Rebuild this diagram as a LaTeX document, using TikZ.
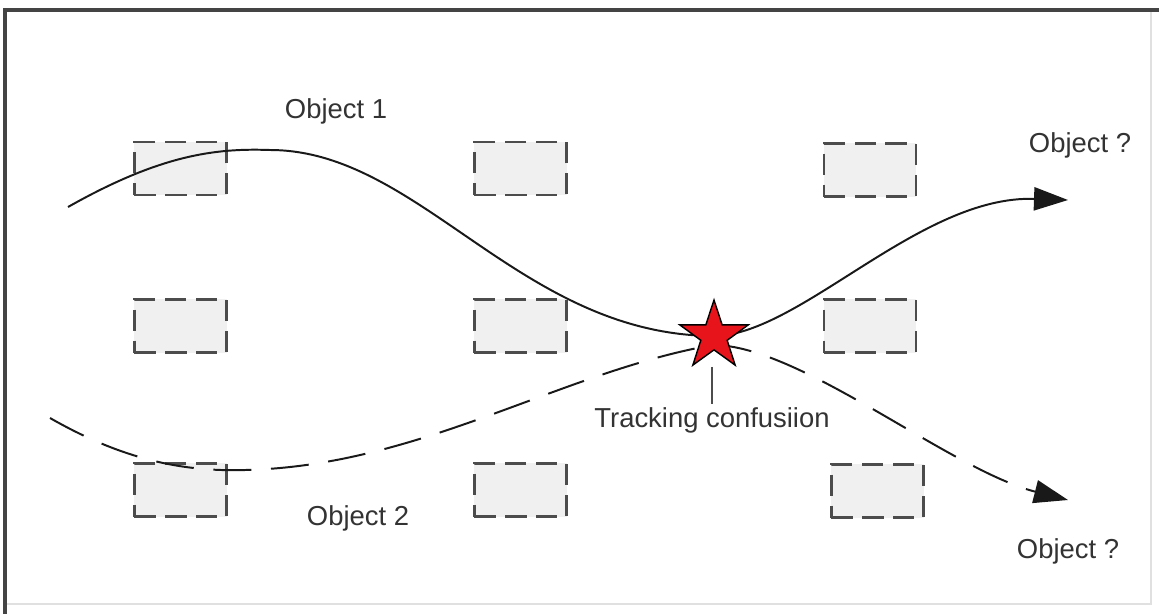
\documentclass[tikz,border=0pt]{standalone}
\usepackage{fontspec}
\setmainfont{Liberation Sans}
\usetikzlibrary{arrows.meta, shapes.geometric}
\definecolor{framegray}{HTML}{444444}
\definecolor{cellfill}{HTML}{F0F0F0}
\definecolor{starred}{HTML}{E8141B}

\begin{document}
\begin{tikzpicture}[
    x=0.025cm, y=-0.025cm,
    font=\fontsize{19.5}{22}\selectfont,
    % Dashed grid cells
    cell/.style={
        draw=black!70, line width=1.7pt,
        dash pattern=on 15pt off 7pt,
        rectangle, fill=cellfill,
        minimum width=2.3cm, minimum height=1.33cm,
        inner sep=0pt
    },
    % Object trajectories
    track/.style={
        line width=1.4pt, draw=black!90,
        -{Triangle[length=0.85cm, width=0.58cm]}
    },
    % Text labels
    lbl/.style={text=black!80, anchor=base, inner sep=2pt}
]

\useasboundingbox (0,0) rectangle (1159,614);

% Frame
\draw[black!12, line width=0.8pt] (1151,10) -- (1151,604) -- (5,604);
\draw[framegray, line width=2.6pt] (1159,10) -- (5,10) -- (5,614);

% Grid cells (left, middle, right column)
\node[cell] (c11) at (180.5,168.5) {};
\node[cell] (c12) at (180.5,326) {};
\node[cell] (c13) at (180.5,490) {};
\node[cell] (c21) at (520.5,168.5) {};
\node[cell] (c22) at (520.5,326) {};
\node[cell] (c23) at (520.5,490) {};
\node[cell] (c31) at (870,170) {};
\node[cell] (c32) at (870,326) {};
\node[cell] (c33) at (877.5,491) {};

% Path end points
\coordinate (o1in) at (68,207);
\coordinate (o1out) at (1068,200);
\coordinate (o2in) at (50,418);
\coordinate (o2out) at (1068,500);
\coordinate (o2mid) at (713,345);
\coordinate (conf) at (714,336);

% Object 1 (solid)
\draw[track] (o1in) .. controls (160,155) and (215,148) .. (270,150)
    .. controls (420,150) and (520,335) .. (conf)
    .. controls (800,335) and (920,195) .. (o1out);

% Object 2 (dashed)
\draw[track, dash pattern=on 27pt off 14pt] (o2in) .. controls (120,458) and (180,472) .. (245,470)
    .. controls (420,466) and (560,372) .. (o2mid)
    .. controls (800,345) and (950,470) .. (o2out);

% Confusion point
\node[star, star points=5, star point ratio=2.6, draw=black, line width=1pt,
      fill=starred, minimum size=1.8cm, inner sep=0pt] (star) at (conf) {};

% Labels
\node[lbl] (lobj1) at (336,118) {Object 1};
\node[lbl] (lobj2) at (358,525) {Object 2};
\node[lbl] (lout1) at (1080,152) {Object ?};
\node[lbl] (lout2) at (1068,558) {Object ?};
\node[lbl] (lconf) at (712,427) {Tracking confusiion};

\draw[black!70, line width=1.2pt] (star.outer point 3 -| lconf.north) -- (lconf.north);

\end{tikzpicture}
\end{document}
